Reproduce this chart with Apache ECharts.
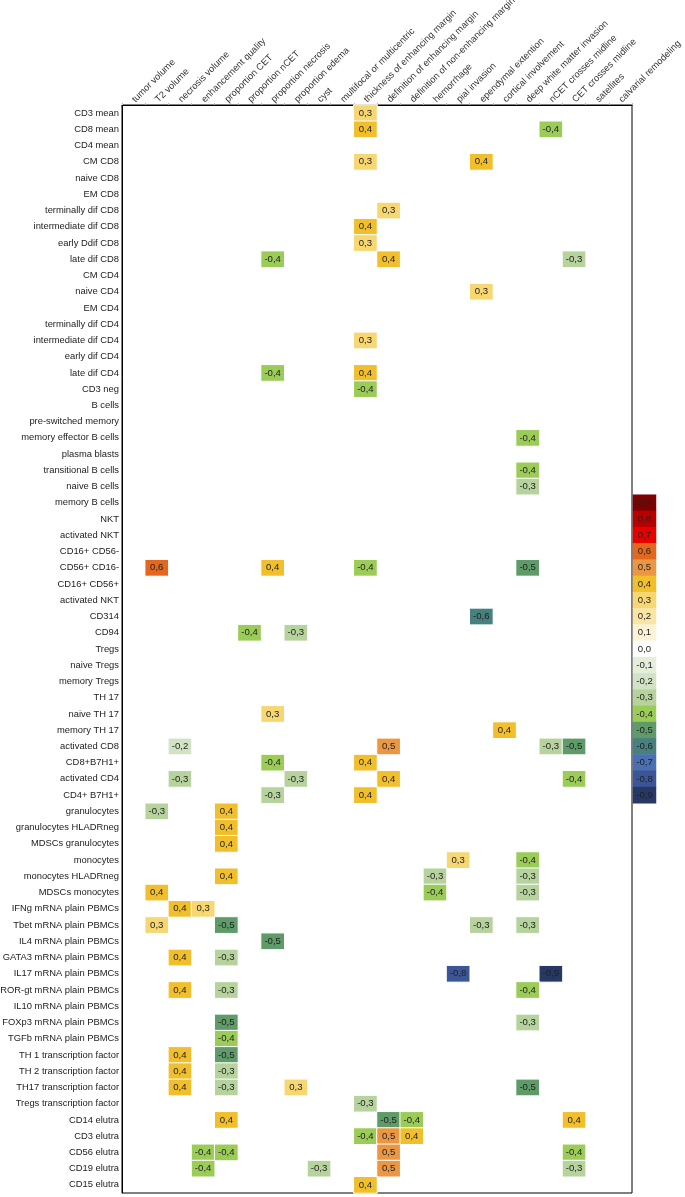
<!DOCTYPE html>
<html>
<head>
<meta charset="utf-8">
<script src="https://cdn.jsdelivr.net/npm/echarts@6/dist/echarts.min.js"></script>
<style>
html,body{margin:0;padding:0;background:#fff;}
#chart{width:685px;height:1197px;}
</style>
</head>
<body>
<div id="chart"></div>
<script>
// ---- categories ----
const columnLabels = ['tumor volume','T2 volume','necrosis volume','enhancement quality','proportion CET','proportion nCET','proportion necrosis','proportion edema','cyst','multifocal or multicentric','thickness of enhancing margin','definition of enhancing margin','definition of non-enhancing margin','hemorrhage','pial invasion','ependymal extention','cortical involvement','deep white matter invasion','nCET crosses midline','CET crosses midline','satellites','calvarial remodeling'];

const rowLabels = ['CD3 mean','CD8 mean','CD4 mean','CM CD8','naive CD8','EM CD8','terminally dif CD8','intermediate dif CD8','early Ddif CD8','late dif CD8','CM CD4','naive CD4','EM CD4','terminally dif CD4','intermediate dif CD4','early dif CD4','late dif CD4','CD3 neg','B cells','pre-switched memory','memory effector B cells','plasma blasts','transitional B cells','naive B cells','memory B cells','NKT','activated NKT','CD16+ CD56-','CD56+ CD16-','CD16+ CD56+','activated NKT','CD314','CD94','Tregs','naive Tregs','memory Tregs','TH 17','naive TH 17','memory TH 17','activated CD8','CD8+B7H1+','activated CD4','CD4+ B7H1+','granulocytes','granulocytes HLADRneg','MDSCs granulocytes','monocytes','monocytes HLADRneg','MDSCs monocytes','IFNg mRNA plain PBMCs','Tbet mRNA plain PBMCs','IL4 mRNA plain PBMCs','GATA3 mRNA plain PBMCs','IL17 mRNA plain PBMCs','ROR-gt mRNA plain PBMCs','IL10 mRNA plain PBMCs','FOXp3 mRNA plain PBMCs','TGFb mRNA plain PBMCs','TH 1 transcription factor','TH 2 transcription factor','TH17 transcription factor','Tregs transcription factor','CD14 elutra','CD3 elutra','CD56 elutra','CD19 elutra','CD15 elutra'];

// ---- significant correlations: [columnIndex, rowIndex, r] ----
const correlations = [
  [10,0,0.3],
  [10,1,0.4],[18,1,-0.4],
  [10,3,0.3],[15,3,0.4],
  [11,6,0.3],
  [10,7,0.4],
  [10,8,0.3],
  [6,9,-0.4],[11,9,0.4],[19,9,-0.3],
  [15,11,0.3],
  [10,14,0.3],
  [6,16,-0.4],[10,16,0.4],
  [10,17,-0.4],
  [17,20,-0.4],
  [17,22,-0.4],
  [17,23,-0.3],
  [1,28,0.6],[6,28,0.4],[10,28,-0.4],[17,28,-0.5],
  [15,31,-0.6],
  [5,32,-0.4],[7,32,-0.3],
  [6,37,0.3],
  [16,38,0.4],
  [2,39,-0.2],[11,39,0.5],[18,39,-0.3],[19,39,-0.5],
  [6,40,-0.4],[10,40,0.4],
  [2,41,-0.3],[7,41,-0.3],[11,41,0.4],[19,41,-0.4],
  [6,42,-0.3],[10,42,0.4],
  [1,43,-0.3],[4,43,0.4],
  [4,44,0.4],
  [4,45,0.4],
  [14,46,0.3],[17,46,-0.4],
  [4,47,0.4],[13,47,-0.3],[17,47,-0.3],
  [1,48,0.4],[13,48,-0.4],[17,48,-0.3],
  [2,49,0.4],[3,49,0.3],
  [1,50,0.3],[4,50,-0.5],[15,50,-0.3],[17,50,-0.3],
  [6,51,-0.5],
  [2,52,0.4],[4,52,-0.3],
  [14,53,-0.8],[18,53,-0.9],
  [2,54,0.4],[4,54,-0.3],[17,54,-0.4],
  [4,56,-0.5],[17,56,-0.3],
  [4,57,-0.4],
  [2,58,0.4],[4,58,-0.5],
  [2,59,0.4],[4,59,-0.3],
  [2,60,0.4],[4,60,-0.3],[7,60,0.3],[17,60,-0.5],
  [10,61,-0.3],
  [4,62,0.4],[11,62,-0.5],[12,62,-0.4],[19,62,0.4],
  [10,63,-0.4],[11,63,0.5],[12,63,0.4],
  [3,64,-0.4],[4,64,-0.4],[11,64,0.5],[19,64,-0.4],
  [3,65,-0.4],[8,65,-0.3],[11,65,0.5],[19,65,-0.3],
  [10,66,0.4]
];

// ---- colour scale legend ----
const legendValues = [0.9,0.8,0.7,0.6,0.5,0.4,0.3,0.2,0.1,0.0,-0.1,-0.2,-0.3,-0.4,-0.5,-0.6,-0.7,-0.8,-0.9];
const legendLabels = legendValues.map(v => v.toFixed(1).replace('.', ','));
const palette = ['#7f0000','#b90000','#e60000','#e3671c','#eb9642','#f1bf2c','#f6d772','#f9e6a6','#fcf3d7','#ffffff','#e5eddb','#d2e2c4','#b6d39e','#9ccc58','#5f9a69','#47807f','#4a6fb2','#3b5596','#283865'];

const FONT = 'Liberation Sans, Arial, sans-serif';
const fmt = v => v.toFixed(1).replace('.', ',');

const gridLeft = 122, gridTop = 105, gridW = 510, gridH = 1088;
const rowH = gridH / rowLabels.length;
const legendStartRow = rowLabels.indexOf('memory B cells');

const chart = echarts.init(document.getElementById('chart'), null, {renderer:'canvas'});

const pieces = legendValues.map((v, i) => ({gte: v - 0.05, lt: v + 0.05, color: palette[i]}));

chart.setOption({
  animation: false,
  backgroundColor: '#fff',
  textStyle: {fontFamily: FONT},
  grid: [
    {left: gridLeft, top: gridTop, width: gridW, height: gridH, show: true, borderColor: '#000', borderWidth: 1, containLabel: false, outerBoundsMode: 'none'},
    {left: gridLeft + gridW + 1, top: gridTop + legendStartRow * rowH, width: 23, height: legendValues.length * rowH, show: false, containLabel: false, outerBoundsMode: 'none'}
  ],
  xAxis: [
    {
      type: 'category', gridIndex: 0, position: 'top', data: columnLabels,
      axisLine: {show: true, lineStyle: {color: '#000', width: 1}},
      axisTick: {show: true, length: 2, lineStyle: {color: '#bbb'}},
      splitLine: {show: false},
      axisLabel: {rotate: -45, interval: 0, margin: 4, fontSize: 9.4, color: '#333', fontFamily: FONT}
    },
    {type: 'category', gridIndex: 1, data: ['scale'], show: false}
  ],
  yAxis: [
    {
      type: 'category', gridIndex: 0, inverse: true, data: rowLabels,
      axisLine: {show: true, lineStyle: {color: '#000', width: 1}},
      axisTick: {show: false},
      splitLine: {show: false},
      axisLabel: {interval: 0, margin: 3, fontSize: 9.4, color: '#222', fontFamily: FONT}
    },
    {type: 'category', gridIndex: 1, inverse: true, data: legendLabels, show: false}
  ],
  visualMap: {
    type: 'piecewise', show: false, dimension: 2, seriesIndex: [0, 1],
    pieces: pieces
  },
  series: [
    {
      type: 'heatmap', xAxisIndex: 0, yAxisIndex: 0,
      data: correlations,
      itemStyle: {borderColor: '#fff', borderWidth: 1},
      label: {show: true, fontSize: 9.6, color: '#222', fontFamily: FONT, formatter: p => fmt(p.value[2])},
      emphasis: {disabled: true}
    },
    {
      type: 'heatmap', xAxisIndex: 1, yAxisIndex: 1,
      data: legendValues.map((v, i) => [0, i, v]),
      itemStyle: {borderWidth: 0},
      label: {show: true, fontSize: 9.6, color: '#222', fontFamily: FONT, formatter: p => fmt(p.value[2])},
      emphasis: {disabled: true}
    }
  ]
});
</script>
</body>
</html>
